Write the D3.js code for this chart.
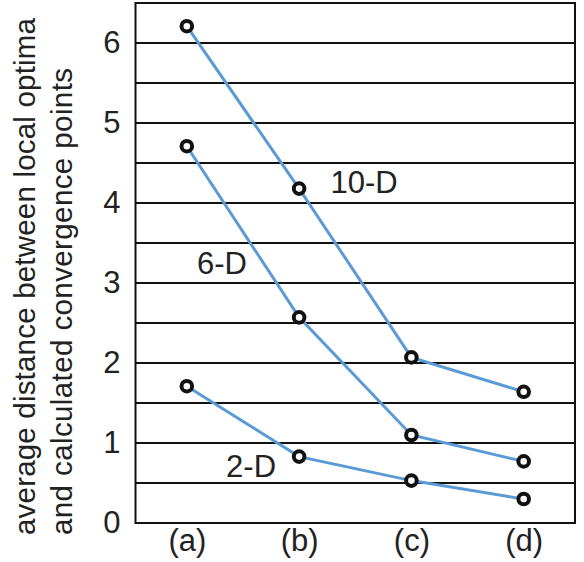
<!DOCTYPE html>
<html>
<head>
<meta charset="utf-8">
<script src="https://cdn.jsdelivr.net/npm/d3@7"></script>
<style>
  body { margin: 0; background: #fff; }
  text { font-family: "Liberation Sans", Arial, sans-serif; fill: #222; }
</style>
</head>
<body>
<div id="chart"></div>
<script>
var categories = ["(a)", "(b)", "(c)", "(d)"];
var seriesNames = ["10-D", "6-D", "2-D"];
var values10D = [6.21, 4.18, 2.07, 1.64];
var values6D = [4.71, 2.57, 1.10, 0.77];
var values2D = [1.71, 0.83, 0.53, 0.30];
var yTicks = [0, 1, 2, 3, 4, 5, 6];
var gridValues = d3.range(0.5, 6.51, 0.5);
var yLabelLines = ["average distance between local optima", "and calculated convergence points"];

// where the series names sit: fractional category index and value
var seriesLabelSpots = [
  { name: "10-D", at: 1.28, v: 4.12 },
  { name: "6-D", at: 0.09, v: 3.11 },
  { name: "2-D", at: 0.35, v: 0.58 }
];

var series = [values10D, values6D, values2D].map((vals, i) => ({
  name: seriesNames[i],
  points: vals.map((v, j) => ({ cat: categories[j], value: v }))
}));

var width = 584, height = 562;
var margin = { top: 3, right: 9, bottom: 39, left: 135.5 };
var chartWidth = width - margin.left - margin.right;
var chartHeight = height - margin.top - margin.bottom;

var svg = d3.select("#chart")
  .append("svg")
  .attr("width", width)
  .attr("height", height);

var g = svg.append("g")
  .attr("transform", `translate(${margin.left}, ${margin.top})`);

var xScale = d3.scalePoint()
  .domain(categories)
  .range([0, chartWidth])
  .padding(0.457);

var xIndex = d3.scaleLinear()
  .domain([0, categories.length - 1])
  .range([xScale(categories[0]), xScale(categories[categories.length - 1])]);

var yScale = d3.scaleLinear()
  .domain([0, 6.5])
  .range([chartHeight, 0]);

// horizontal grid every 0.5
g.append("g")
  .attr("class", "grid")
  .selectAll("line")
  .data(gridValues)
  .enter()
  .append("line")
  .attr("x1", 0)
  .attr("x2", chartWidth)
  .attr("y1", d => yScale(d))
  .attr("y2", d => yScale(d))
  .attr("stroke", "#111")
  .attr("stroke-width", 2);

g.append("rect")
  .attr("width", chartWidth)
  .attr("height", chartHeight)
  .attr("fill", "none")
  .attr("stroke", "#111")
  .attr("stroke-width", 2);

var yAxis = d3.axisLeft(yScale)
  .tickValues(yTicks)
  .tickFormat(d3.format("d"))
  .tickSize(0)
  .tickPadding(15);
var xAxis = d3.axisBottom(xScale).tickSize(0).tickPadding(6);

var yg = g.append("g").attr("class", "y axis").call(yAxis);
var xg = g.append("g")
  .attr("class", "x axis")
  .attr("transform", `translate(0, ${chartHeight})`)
  .call(xAxis);

[yg, xg].forEach(a => {
  a.select(".domain").remove();
  a.selectAll("text")
    .attr("font-size", 31)
    .attr("font-family", "Liberation Sans, Arial, sans-serif")
    .attr("fill", "#222");
});

var line = d3.line()
  .x(d => xScale(d.cat))
  .y(d => yScale(d.value));

var lines = g.append("g").attr("class", "lines");

lines.selectAll("path")
  .data(series)
  .enter()
  .append("path")
  .attr("d", d => line(d.points))
  .attr("fill", "none")
  .attr("stroke", "#5b9bd5")
  .attr("stroke-width", 3);

lines.selectAll(".dots")
  .data(series)
  .enter()
  .append("g")
  .attr("class", "dots")
  .selectAll("circle")
  .data(d => d.points)
  .enter()
  .append("circle")
  .attr("cx", d => xScale(d.cat))
  .attr("cy", d => yScale(d.value))
  .attr("r", 5.3)
  .attr("fill", "#fff")
  .attr("stroke", "#111")
  .attr("stroke-width", 4);

g.append("g")
  .selectAll("text")
  .data(seriesLabelSpots)
  .enter()
  .append("text")
  .attr("x", d => xIndex(d.at))
  .attr("y", d => yScale(d.v))
  .attr("font-size", 31)
  .text(d => d.name);

// rotated y label, two lines, wide word spacing as in the original
svg.append("g")
  .attr("transform", "translate(35, 535) rotate(-90)")
  .selectAll("text")
  .data(yLabelLines)
  .enter()
  .append("text")
  .attr("x", 0)
  .attr("y", (d, i) => i * 37)
  .attr("font-size", 29.5)
  .attr("textLength", (d, i) => i === 0 ? 517 : 467)
  .attr("lengthAdjust", "spacing")
  .text(d => d);
</script>
</body>
</html>
